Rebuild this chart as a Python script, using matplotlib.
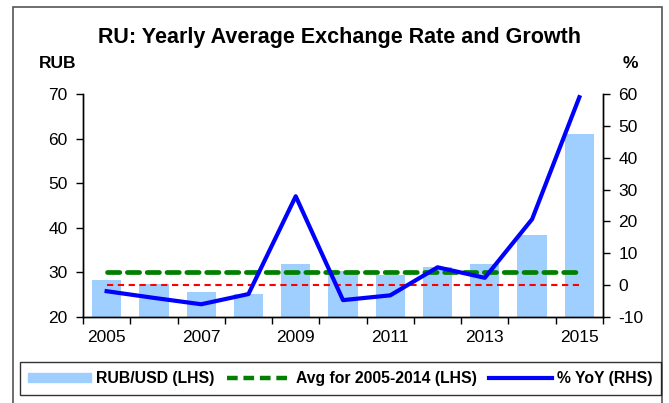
import matplotlib
matplotlib.use("Agg")
import matplotlib.pyplot as plt
import numpy as np
from matplotlib.patches import Rectangle
from matplotlib.lines import Line2D
from matplotlib.ticker import FixedLocator, NullFormatter

plt.rcParams["font.family"] = ["Liberation Sans", "DejaVu Sans"]
plt.rcParams["axes.unicode_minus"] = False

years = [2005, 2006, 2007, 2008, 2009, 2010, 2011, 2012, 2013, 2014, 2015]
rub_usd = [28.4, 27.3, 25.6, 25.1, 31.8, 30.3, 29.5, 31.1, 31.8, 38.4, 61.0]
yoy = [-1.9, -4.0, -6.0, -2.8, 27.9, -4.7, -3.2, 5.6, 2.3, 20.7, 59.0]
avg_2005_2014 = 30.0
year_labels = ["2005", "2007", "2009", "2011", "2013", "2015"]

BAR = "#9fcfff"
GREEN = "#007f00"
BLUE = "#0000ff"
RED = "#ff0000"

W, H = 669, 403
fig = plt.figure(figsize=(W / 100, H / 100), dpi=100)
ax = fig.add_axes([83 / W, 1 - 317 / H, (603 - 83) / W, (317 - 94) / H])
ax2 = ax.twinx()

x = np.arange(len(years))
ax.bar(x, rub_usd, width=0.62, color=BAR, zorder=1)
ax.plot([x[0], x[-1]], [avg_2005_2014, avg_2005_2014], color=GREEN, lw=3.4,
        dashes=(2.6, 1.6), dash_capstyle="round", zorder=3)
ax2.plot([x[0], x[-1]], [0, 0], color=RED, lw=1.5, dashes=(3, 2.2), zorder=2)
ax2.plot(x, yoy, color=BLUE, lw=3.0, zorder=4)

ax.set_xlim(-0.5, len(years) - 0.5)
ax.set_ylim(20, 70)
ax2.set_ylim(-10, 60)
ax.set_yticks(np.arange(20, 71, 10))
ax2.set_yticks(np.arange(-10, 61, 10))

ax.xaxis.set_major_locator(FixedLocator(np.arange(-0.5, len(years), 1)))
ax.xaxis.set_major_formatter(NullFormatter())
ax.xaxis.set_minor_locator(FixedLocator(x[::2]))
ax.set_xticklabels(year_labels, minor=True)
ax.tick_params(axis="x", which="major", length=5, width=1, direction="out")
ax.tick_params(axis="x", which="minor", length=0, pad=9, labelsize=12.5)
ax.tick_params(axis="y", length=5, width=1, direction="out", labelsize=12.5, pad=6)
ax2.tick_params(axis="y", length=5, width=1, direction="out", labelsize=12.5, pad=6)

for a in (ax, ax2):
    a.spines["top"].set_visible(False)
    for s in ("left", "right", "bottom"):
        a.spines[s].set_linewidth(1)

fig.text(340 / W, 1 - 38 / H, "RU: Yearly Average Exchange Rate and Growth",
         ha="center", va="center", fontsize=15.5, fontweight="bold")
fig.text(58 / W, 1 - 63 / H, "RUB", ha="center", va="center", fontsize=12.5, fontweight="bold")
fig.text(630 / W, 1 - 63 / H, "%", ha="center", va="center", fontsize=12.5, fontweight="bold")

# outer frame
fig.patches.append(Rectangle((13 / W, -0.05), (662 - 13) / W, 1.05 - 7 / H,
                             transform=fig.transFigure, fill=False,
                             edgecolor="#555555", lw=1.2))

handles = [
    Rectangle((0, 0), 1, 1, color=BAR),
    Line2D([], [], color=GREEN, lw=3.2, dashes=(2.4, 1.3)),
    Line2D([], [], color=BLUE, lw=3.0),
]
labels = ["RUB/USD (LHS)", "Avg for 2005-2014 (LHS)", "% YoY (RHS)"]
leg = fig.legend(handles, labels, loc="center", ncol=3,
                 bbox_to_anchor=(((22 + 659) / 2) / W, 1 - 378.5 / H),
                 prop={"weight": "bold", "size": 11.3}, frameon=True,
                 fancybox=False, edgecolor="black", handlelength=4.0,
                 handleheight=0.45, columnspacing=0.8, handletextpad=0.35,
                 borderpad=0.55)
leg.get_frame().set_linewidth(1)

fig.savefig("out.png", dpi=100)
